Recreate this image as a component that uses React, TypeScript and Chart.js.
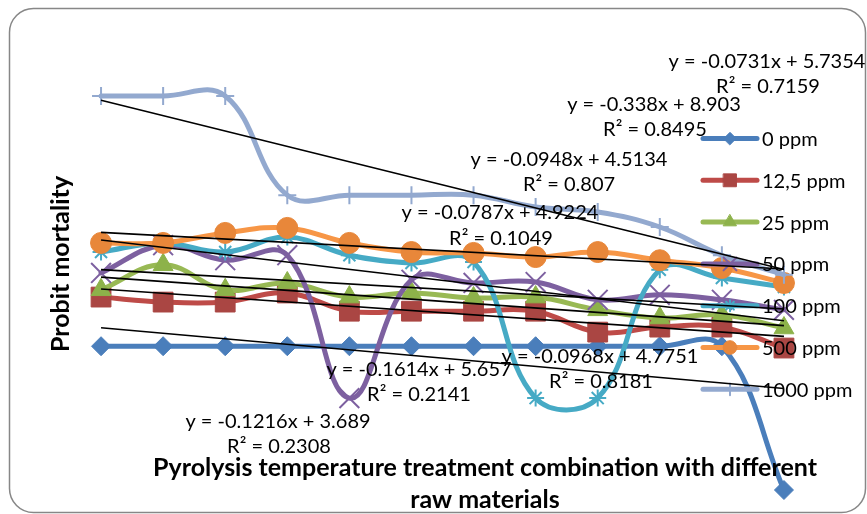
import React, { useEffect, useRef } from 'react';
import { Chart, registerables } from 'chart.js';
import { drawPoint } from 'chart.js/helpers';

Chart.register(...registerables);

// ---------- data ----------
const categories = [1, 2, 3, 4, 5, 6, 7, 8, 9, 10, 11, 12];
const seriesNames = ['0 ppm', '12,5 ppm', '25 ppm', '50 ppm', '100 ppm', '500 ppm', '1000 ppm'];

const ppm0 = [3.16, 3.16, 3.16, 3.16, 3.16, 3.16, 3.16, 3.16, 3.16, 3.16, 3.16, 0];
const ppm12_5 = [4.24, 4.13, 4.13, 4.33, 3.93, 3.93, 3.93, 3.93, 3.47, 3.58, 3.58, 3.12];
const ppm25 = [4.4, 4.95, 4.4, 4.55, 4.24, 4.33, 4.22, 4.24, 3.96, 3.78, 3.85, 3.56];
const ppm50 = [4.77, 5.38, 5.05, 5.16, 2.02, 4.62, 4.55, 4.57, 4.18, 4.29, 4.18, 3.96];
const ppm100 = [5.23, 5.43, 5.23, 5.56, 5.16, 4.99, 5.01, 2.02, 2.02, 4.84, 4.66, 4.46];
const ppm500 = [5.43, 5.43, 5.65, 5.76, 5.43, 5.23, 5.21, 5.12, 5.23, 5.05, 4.88, 4.55];
const ppm1000 = [8.66, 8.66, 8.66, 6.48, 6.48, 6.48, 6.48, 6.22, 6.11, 5.78, 5.16, 4.73];

const trendSlopes = [-0.1216, -0.0948, -0.0968, -0.0787, -0.1614, -0.0731, -0.338];
const trendIntercepts = [3.689, 4.5134, 4.7751, 4.9224, 5.657, 5.7354, 8.903];
const trendEquations = [
  'y = -0.1216x + 3.689',
  'y = -0.0948x + 4.5134',
  'y = -0.0968x + 4.7751',
  'y = -0.0787x + 4.9224',
  'y = -0.1614x + 5.657',
  'y = -0.0731x + 5.7354',
  'y = -0.338x + 8.903',
];
const trendR2 = ['R² = 0.2308', 'R² = 0.807', 'R² = 0.8181', 'R² = 0.1049', 'R² = 0.2141', 'R² = 0.7159', 'R² = 0.8495'];

const yTitle = 'Probit mortality';
const xTitleLines = ['Pyrolysis temperature treatment combination with different', 'raw materials'];

// ---------- styles ----------
const lineColors = ['#4A7EBB', '#BE4B48', '#98B954', '#7D60A0', '#46AAC5', '#F79646', '#93A9CF'];
const markerColors = ['#4A7EBB', '#AA4643', '#8DB24A', '#7D60A0', '#46AAC5', '#E8873A', '#93A9CF'];
const pointStyles: any[] = ['rectRot', 'rect', 'triangle', 'crossRot', 'star', 'circle', 'cross'];
const pointRadii = [9.5, 14, 11.5, 14, 8.5, 10.5, 9];
const pointBorderWidths = [1, 1, 1, 2, 2, 1, 2];

// label centres (px)
const labelPos = [
  [278, 422, 279, 447],
  [569, 160, 569, 185],
  [600, 357, 601, 382],
  [500, 213, 501, 239],
  [419, 370, 419, 395],
  [767, 62, 768, 87],
  [654, 105, 655, 130],
];

const FONT = 'Lato, "Open Sans", sans-serif';

function drawBorder(ctx: CanvasRenderingContext2D) {
  const x0 = 9.5, y0 = 8.5, x1 = 865.5, y1 = 512.5, r = 24;
  ctx.save();
  ctx.beginPath();
  ctx.moveTo(x0 + r, y0);
  ctx.lineTo(x1 - r, y0);
  ctx.arcTo(x1, y0, x1, y0 + r, r);
  ctx.lineTo(x1, y1 - r);
  ctx.arcTo(x1, y1, x1 - r, y1, r);
  ctx.lineTo(x0 + r, y1);
  ctx.arcTo(x0, y1, x0, y1 - r, r);
  ctx.lineTo(x0, y0 + r);
  ctx.arcTo(x0, y0, x0 + r, y0, r);
  ctx.closePath();
  ctx.fillStyle = '#ffffff';
  ctx.fill();
  ctx.strokeStyle = '#878787';
  ctx.lineWidth = 1.5;
  ctx.stroke();
  ctx.restore();
}

function drawLegend(ctx: CanvasRenderingContext2D) {
  ctx.save();
  const x0 = 703, x1 = 757, xm = 730, tx = 762;
  seriesNames.forEach((name, i) => {
    const y = 138.5 + i * 41.8;
    ctx.beginPath();
    ctx.moveTo(x0, y);
    ctx.lineTo(x1, y);
    ctx.strokeStyle = lineColors[i];
    ctx.lineWidth = 5;
    ctx.lineCap = 'round';
    ctx.stroke();
    ctx.fillStyle = markerColors[i];
    ctx.strokeStyle = markerColors[i];
    ctx.lineWidth = pointBorderWidths[i];
    drawPoint(ctx, { pointStyle: pointStyles[i], radius: pointRadii[i] * 0.65, borderWidth: pointBorderWidths[i], rotation: 0 } as any, xm, y);
    ctx.fillStyle = '#000';
    ctx.font = `20px ${FONT}`;
    ctx.textAlign = 'left';
    ctx.textBaseline = 'middle';
    ctx.fillText(name, tx, y + 1);
  });
  ctx.restore();
}

function drawLabels(ctx: CanvasRenderingContext2D) {
  ctx.save();
  ctx.fillStyle = '#000';
  ctx.font = `20px ${FONT}`;
  ctx.textAlign = 'center';
  ctx.textBaseline = 'middle';
  trendEquations.forEach((eq, i) => {
    const p = labelPos[i];
    ctx.fillText(eq, p[0], p[1]);
    ctx.fillText(trendR2[i], p[2], p[3]);
  });
  // axis titles
  ctx.font = `bold 25px ${FONT}`;
  ctx.fillText(xTitleLines[0], 485, 468);
  ctx.fillText(xTitleLines[1], 485, 500);
  ctx.translate(61, 264);
  ctx.rotate(-Math.PI / 2);
  ctx.fillText(yTitle, 0, 0);
  ctx.restore();
}

const overlay = {
  id: 'overlay',
  beforeDraw(chart: any) {
    drawBorder(chart.ctx);
  },
  afterDatasetDraw(chart: any, args: any) {
    if (args.index === 6) drawLegend(chart.ctx);
  },
  afterDatasetsDraw(chart: any) {
    drawLabels(chart.ctx);
  },
};

export default function App() {
  const ref = useRef<HTMLCanvasElement>(null);
  useEffect(() => {
    const canvas = ref.current!;
    const seriesData = [ppm0, ppm12_5, ppm25, ppm50, ppm100, ppm500, ppm1000];
    const datasets: any[] = [];
    seriesData.forEach((d, i) => {
      datasets.push({
        label: seriesNames[i],
        data: categories.map((c, j) => ({ x: c, y: d[j] })),
        borderColor: lineColors[i],
        backgroundColor: markerColors[i],
        pointBackgroundColor: markerColors[i],
        pointBorderColor: markerColors[i],
        pointStyle: pointStyles[i],
        pointRadius: pointRadii[i],
        pointBorderWidth: pointBorderWidths[i],
        borderWidth: 5,
        tension: 0.4,
        order: 20 - i,
        clip: false,
        borderCapStyle: 'round',
        borderJoinStyle: 'round',
      });
    });
    trendSlopes.forEach((m, i) => {
      const xa = categories[0];
      const xb = categories[categories.length - 1];
      datasets.push({
        label: 'trend ' + seriesNames[i],
        data: [
          { x: xa, y: trendIntercepts[i] + m * xa },
          { x: xb, y: trendIntercepts[i] + m * xb },
        ],
        borderColor: '#000000',
        borderWidth: 1.6,
        pointRadius: 0,
        tension: 0,
        order: 0,
        clip: false,
      });
    });
    const chart = new Chart(canvas, {
      type: 'line',
      data: { datasets },
      options: {
        responsive: false,
        animation: false,
        events: [],
        layout: { padding: { left: 70, right: 52, top: 35, bottom: 24 } },
        scales: {
          x: { type: 'linear', min: 0.5, max: 12.5, display: false },
          y: { type: 'linear', min: 0, max: 10, display: false },
        },
        plugins: { legend: { display: false }, tooltip: { enabled: false } },
      },
      plugins: [overlay],
    });
    return () => chart.destroy();
  }, []);
  return (
    <div style={{ position: 'absolute', left: 0, top: 0, width: 867, height: 514 }}>
      <canvas ref={ref} width={867} height={514} style={{ display: 'block' }} />
    </div>
  );
}
